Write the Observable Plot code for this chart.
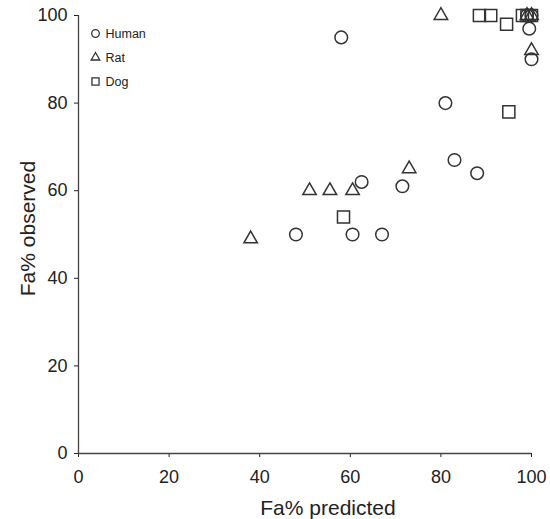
<!DOCTYPE html>
<html>
<head>
<meta charset="utf-8">
<script src="https://cdn.jsdelivr.net/npm/d3@7"></script>
<script src="https://cdn.jsdelivr.net/npm/@observablehq/plot@0.6"></script>
<style>
  body { margin: 0; background: #fff; }
  #chart svg { font-family: "Liberation Sans", Arial, sans-serif; }
</style>
</head>
<body>
<div id="chart"></div>
<script>
const species = ["Human", "Rat", "Dog"];
const shapes = ["circle", "triangle", "square"];
const ticks = [0, 20, 40, 60, 80, 100];

const humanPred = [58, 81, 83, 88, 71.5, 62.5, 48, 60.5, 67, 99.5, 100, 99, 100];
const humanObs  = [95, 80, 67, 64, 61, 62, 50, 50, 50, 97, 90, 100, 100];
const ratPred = [38, 51, 55.5, 60.5, 73, 80, 100, 99, 100];
const ratObs  = [49, 60, 60, 60, 65, 100, 92, 100, 100];
const dogPred = [58.5, 88.5, 91, 94.5, 95, 98, 99, 100];
const dogObs  = [54, 100, 100, 98, 78, 100, 100, 100];

const series = [[humanPred, humanObs], [ratPred, ratObs], [dogPred, dogObs]];
const rows = [];
series.forEach(([p, o], k) => {
  p.forEach((v, i) => rows.push({species: species[k], pred: v, obs: o[i]}));
});

const markR = {Human: 6.3, Rat: 5.0, Dog: 6.8};
const legendR = {Human: 3.8, Rat: 3.2, Dog: 4.0};

const dotMarks = species.map((s) =>
  Plot.dot(rows.filter((d) => d.species === s), {
    x: "pred", y: "obs", symbol: "species", r: markR[s],
    stroke: "#333", strokeWidth: 1.5, fill: "none"
  })
);
const legendMarks = species.flatMap((s, i) => [
  Plot.dot([s], {symbol: (d) => d, frameAnchor: "top-left", dx: 17, dy: 18 + 24 * i,
    r: legendR[s], stroke: "#333", strokeWidth: 1.3, fill: "none"}),
  Plot.text([s], {text: (d) => d, frameAnchor: "top-left", dx: 27, dy: 18 + 24 * i,
    textAnchor: "start", lineAnchor: "middle", fontSize: 12.5, fill: "#222"})
]);

const chart = Plot.plot({
  width: 550,
  height: 519,
  marginLeft: 78,
  marginRight: 19,
  marginTop: 15,
  marginBottom: 66,
  style: {fontFamily: "Liberation Sans, Arial, sans-serif", fontSize: "18px", color: "#222", background: "#fff"},
  x: {domain: [0, 100]},
  y: {domain: [0, 100]},
  symbol: {domain: species, range: shapes},
  marks: [
    Plot.axisX({ticks: ticks, tickSize: 4, tickPadding: 13, label: null}),
    Plot.axisY({ticks: ticks, tickSize: 4, tickPadding: 7, label: null}),
    Plot.text(["Fa% predicted"], {text: (d) => d, frameAnchor: "bottom", dx: 23, dy: 55, textAnchor: "middle", lineAnchor: "middle", fontSize: 21, fill: "#222"}),
    Plot.text(["Fa% observed"], {text: (d) => d, frameAnchor: "left", dx: -50, dy: -6, rotate: -90, textAnchor: "middle", lineAnchor: "middle", fontSize: 21, fill: "#222"}),
    Plot.ruleY([0], {stroke: "#444", strokeWidth: 1.3}),
    Plot.ruleX([0], {stroke: "#444", strokeWidth: 1.3}),
    ...dotMarks,
    ...legendMarks
  ]
});
document.getElementById("chart").appendChild(chart);
</script>
</body>
</html>
